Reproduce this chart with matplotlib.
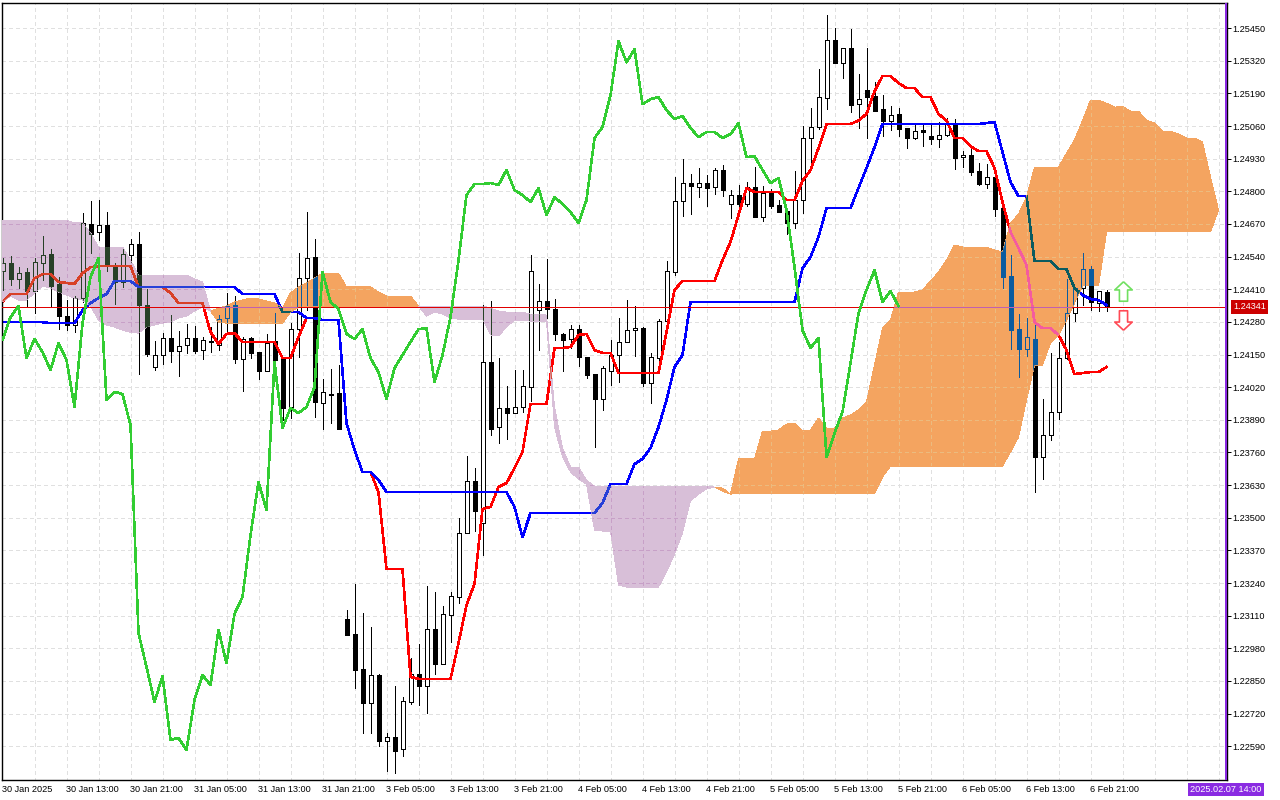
import numpy as np
import matplotlib
matplotlib.use('Agg')
import matplotlib.pyplot as plt
from matplotlib.colors import to_rgb, to_hex
from matplotlib.path import Path

plt.rcParams['font.family'] = ['Liberation Sans', 'DejaVu Sans']

# hourly candles
opens = [
    1.24482, 1.24514, 1.24451, 1.24478, 1.24403, 1.24514, 1.24550, 1.24431, 1.24303, 1.24267,
    1.24375, 1.24670, 1.24638, 1.24666, 1.24502, 1.24439, 1.24546, 1.24590, 1.24347, 1.24100,
    1.24148, 1.24216, 1.24164, 1.24188, 1.24216, 1.24168, 1.24204, 1.24188, 1.24295, 1.24347,
    1.24132, 1.24216, 1.24160, 1.24084, 1.24204, 1.24136, 1.23941, 1.24251, 1.24454, 1.24538,
    1.23957, 1.23993, 1.23997, 1.23097, 1.23037, 1.22898, 1.22762, 1.22874, 1.22611, 1.22627,
    1.22579, 1.22766, 1.22878, 1.22830, 1.23057, 1.22917, 1.23113, 1.23184, 1.23439, 1.23646,
    1.23479, 1.24120, 1.23861, 1.23937, 1.23917, 1.23941, 1.24020, 1.24327, 1.24363, 1.24331,
    1.24232, 1.24212, 1.24251, 1.24140, 1.24072, 1.23973, 1.24084, 1.24148, 1.24200, 1.24247,
    1.24255, 1.24036, 1.24136, 1.24283, 1.24478, 1.24761, 1.24833, 1.24817, 1.24833, 1.24817,
    1.24885, 1.24749, 1.24785, 1.24749, 1.24817, 1.24697, 1.24793, 1.24745, 1.24721, 1.24674,
    1.24765, 1.25012, 1.25056, 1.25171, 1.25402, 1.25311, 1.25370, 1.25147, 1.25203, 1.25179,
    1.25127, 1.25082, 1.25108, 1.25052, 1.25012, 1.25044, 1.25022, 1.25008, 1.25026, 1.25068,
    1.24936, 1.24944, 1.24881, 1.24829, 1.24857, 1.24733, 1.24462, 1.24251, 1.24172, 1.24212,
    1.23742, 1.23829, 1.23921, 1.24136, 1.24315, 1.24415, 1.24490, 1.24355, 1.24399,
]
highs = [
    1.24534, 1.24542, 1.24498, 1.24494, 1.24534, 1.24622, 1.24570, 1.24458, 1.24367, 1.24383,
    1.24713, 1.24761, 1.24765, 1.24717, 1.24514, 1.24570, 1.24610, 1.24638, 1.24411, 1.24204,
    1.24235, 1.24307, 1.24243, 1.24271, 1.24263, 1.24220, 1.24259, 1.24307, 1.24395, 1.24383,
    1.24220, 1.24220, 1.24160, 1.24232, 1.24315, 1.24136, 1.24275, 1.24554, 1.24717, 1.24610,
    1.24052, 1.24092, 1.24108, 1.23132, 1.23236, 1.23121, 1.23065, 1.22878, 1.22643, 1.22830,
    1.22786, 1.22941, 1.22997, 1.23228, 1.23204, 1.23148, 1.23204, 1.23499, 1.23746, 1.23698,
    1.24347, 1.24363, 1.24136, 1.24024, 1.24088, 1.24088, 1.24546, 1.24431, 1.24530, 1.24371,
    1.24235, 1.24267, 1.24267, 1.24140, 1.24072, 1.24104, 1.24208, 1.24295, 1.24367, 1.24343,
    1.24259, 1.24156, 1.24291, 1.24522, 1.24857, 1.24928, 1.24869, 1.24893, 1.24865, 1.24893,
    1.24904, 1.24805, 1.24825, 1.24837, 1.24896, 1.24821, 1.24809, 1.24765, 1.24721, 1.24881,
    1.25060, 1.25131, 1.25287, 1.25502, 1.25450, 1.25370, 1.25446, 1.25267, 1.25370, 1.25234,
    1.25183, 1.25139, 1.25131, 1.25052, 1.25064, 1.25064, 1.25064, 1.25076, 1.25092, 1.25088,
    1.24960, 1.24968, 1.24912, 1.24908, 1.24857, 1.24733, 1.24546, 1.24311, 1.24295, 1.24275,
    1.23973, 1.24156, 1.24200, 1.24451, 1.24419, 1.24554, 1.24502, 1.24403, 1.24407,
]
lows = [
    1.24407, 1.24427, 1.24415, 1.24339, 1.24315, 1.24447, 1.24339, 1.24251, 1.24247, 1.24239,
    1.24359, 1.24554, 1.24606, 1.24482, 1.24351, 1.24419, 1.24518, 1.24072, 1.24144, 1.24088,
    1.24112, 1.24120, 1.24064, 1.24156, 1.24156, 1.24132, 1.24160, 1.24168, 1.24239, 1.24116,
    1.24005, 1.24136, 1.24052, 1.24084, 1.24068, 1.23889, 1.23897, 1.24140, 1.24327, 1.23901,
    1.23853, 1.23877, 1.23853, 1.23033, 1.22822, 1.22643, 1.22643, 1.22591, 1.22491, 1.22483,
    1.22551, 1.22758, 1.22754, 1.22722, 1.22878, 1.22917, 1.23005, 1.23160, 1.23439, 1.23447,
    1.23351, 1.23829, 1.23797, 1.23813, 1.23917, 1.23921, 1.23965, 1.24168, 1.24295, 1.24208,
    1.24084, 1.24176, 1.24104, 1.24056, 1.23782, 1.23929, 1.24028, 1.24040, 1.24200, 1.24144,
    1.24024, 1.23957, 1.24124, 1.24283, 1.24466, 1.24701, 1.24709, 1.24777, 1.24741, 1.24789,
    1.24781, 1.24693, 1.24741, 1.24741, 1.24697, 1.24681, 1.24733, 1.24717, 1.24630, 1.24654,
    1.24713, 1.24912, 1.25048, 1.25127, 1.25311, 1.25251, 1.25116, 1.25052, 1.25012, 1.25119,
    1.25022, 1.25044, 1.25022, 1.24972, 1.25008, 1.24980, 1.24988, 1.24976, 1.25022, 1.24889,
    1.24896, 1.24865, 1.24825, 1.24813, 1.24701, 1.24415, 1.24172, 1.24060, 1.24144, 1.23602,
    1.23654, 1.23809, 1.23893, 1.24132, 1.24283, 1.24347, 1.24327, 1.24323, 1.24323,
]
closes = [
    1.24514, 1.24451, 1.24474, 1.24403, 1.24518, 1.24546, 1.24423, 1.24303, 1.24267, 1.24375,
    1.24674, 1.24630, 1.24666, 1.24502, 1.24439, 1.24550, 1.24590, 1.24347, 1.24152, 1.24148,
    1.24216, 1.24164, 1.24184, 1.24216, 1.24164, 1.24208, 1.24200, 1.24291, 1.24343, 1.24132,
    1.24212, 1.24156, 1.24084, 1.24196, 1.24128, 1.23937, 1.24251, 1.24454, 1.24534, 1.23961,
    1.24001, 1.23989, 1.23853, 1.23033, 1.22894, 1.22762, 1.22874, 1.22611, 1.22627, 1.22571,
    1.22770, 1.22878, 1.22830, 1.23057, 1.22917, 1.23117, 1.23188, 1.23439, 1.23646, 1.23527,
    1.24120, 1.23853, 1.23937, 1.23917, 1.23941, 1.24024, 1.24482, 1.24363, 1.24331, 1.24232,
    1.24208, 1.24251, 1.24140, 1.24068, 1.23973, 1.24096, 1.24148, 1.24200, 1.24247, 1.24255,
    1.24036, 1.24140, 1.24283, 1.24482, 1.24761, 1.24833, 1.24821, 1.24833, 1.24813, 1.24885,
    1.24805, 1.24785, 1.24749, 1.24817, 1.24697, 1.24793, 1.24741, 1.24717, 1.24674, 1.24765,
    1.25012, 1.25056, 1.25175, 1.25402, 1.25311, 1.25370, 1.25143, 1.25167, 1.25175, 1.25119,
    1.25082, 1.25104, 1.25048, 1.25012, 1.25040, 1.25036, 1.25008, 1.25026, 1.25068, 1.24932,
    1.24944, 1.24877, 1.24829, 1.24857, 1.24729, 1.24458, 1.24247, 1.24172, 1.24220, 1.23742,
    1.23829, 1.23921, 1.24136, 1.24315, 1.24415, 1.24490, 1.24359, 1.24403, 1.24341,
]

# ichimoku lines
tenkan = [
    1.24359, 1.24391, 1.24391, 1.24391, 1.24454, 1.24470, 1.24470, 1.24439, 1.24435, 1.24431,
    1.24474, 1.24498, 1.24502, 1.24502, 1.24502, 1.24502, 1.24502, 1.24419, 1.24419, 1.24419,
    1.24419, 1.24395, 1.24355, 1.24355, 1.24355, 1.24355, 1.24239, 1.24192, 1.24232, 1.24235,
    1.24200, 1.24200, 1.24200, 1.24200, 1.24200, 1.24136, 1.24136, 1.24220, 1.24295, 1.24295,
    1.24287, 1.24287, 1.24287, 1.23877, 1.23770, 1.23682, 1.23682, 1.23602, 1.23296, 1.23296,
    1.23296, 1.22866, 1.22858, 1.22858, 1.22858, 1.22858, 1.22858, 1.23001, 1.23152, 1.23236,
    1.23535, 1.23543, 1.23622, 1.23638, 1.23698, 1.23762, 1.23953, 1.23953, 1.23953, 1.24176,
    1.24176, 1.24180, 1.24228, 1.24232, 1.24168, 1.24156, 1.24156, 1.24076, 1.24076, 1.24076,
    1.24076, 1.24076, 1.24076, 1.24239, 1.24407, 1.24443, 1.24443, 1.24443, 1.24443, 1.24443,
    1.24526, 1.24598, 1.24705, 1.24813, 1.24797, 1.24797, 1.24797, 1.24797, 1.24765, 1.24765,
    1.24841, 1.24885, 1.24972, 1.25068, 1.25068, 1.25068, 1.25068, 1.25082, 1.25108, 1.25199,
    1.25259, 1.25259, 1.25231, 1.25211, 1.25211, 1.25175, 1.25175, 1.25108, 1.25082, 1.25012,
    1.25012, 1.24980, 1.24960, 1.24960, 1.24893, 1.24757, 1.24638, 1.24574, 1.24506, 1.24279,
    1.24255, 1.24255, 1.24228, 1.24168, 1.24072, 1.24076, 1.24080, 1.24080, 1.24100,
]
kijun = [
    1.24279, 1.24279, 1.24279, 1.24279, 1.24279, 1.24279, 1.24275, 1.24275, 1.24275, 1.24275,
    1.24327, 1.24355, 1.24375, 1.24391, 1.24443, 1.24443, 1.24443, 1.24419, 1.24419, 1.24419,
    1.24419, 1.24419, 1.24419, 1.24419, 1.24419, 1.24419, 1.24419, 1.24419, 1.24419, 1.24419,
    1.24391, 1.24391, 1.24391, 1.24391, 1.24391, 1.24319, 1.24319, 1.24319, 1.24295, 1.24295,
    1.24287, 1.24287, 1.24287, 1.23877, 1.23770, 1.23682, 1.23682, 1.23650, 1.23602, 1.23602,
    1.23602, 1.23602, 1.23602, 1.23602, 1.23602, 1.23602, 1.23602, 1.23602, 1.23602, 1.23602,
    1.23602, 1.23602, 1.23602, 1.23602, 1.23543, 1.23423, 1.23519, 1.23519, 1.23519, 1.23519,
    1.23519, 1.23519, 1.23519, 1.23519, 1.23519, 1.23559, 1.23634, 1.23634, 1.23634, 1.23714,
    1.23734, 1.23778, 1.23861, 1.23969, 1.24100, 1.24148, 1.24359, 1.24359, 1.24359, 1.24359,
    1.24359, 1.24359, 1.24359, 1.24359, 1.24359, 1.24359, 1.24359, 1.24359, 1.24359, 1.24359,
    1.24494, 1.24538, 1.24618, 1.24733, 1.24733, 1.24733, 1.24733, 1.24813, 1.24893, 1.24976,
    1.25068, 1.25068, 1.25068, 1.25068, 1.25068, 1.25068, 1.25068, 1.25068, 1.25068, 1.25068,
    1.25068, 1.25068, 1.25068, 1.25072, 1.25076, 1.24956, 1.24837, 1.24781, 1.24781, 1.24522,
    1.24522, 1.24522, 1.24490, 1.24490, 1.24415, 1.24387, 1.24371, 1.24367, 1.24347,
]
chikou = [
    1.24208, 1.24299, 1.24343, 1.24136, 1.24212, 1.24160, 1.24088, 1.24196, 1.24128, 1.23941,
    1.24275, 1.24458, 1.24534, 1.23969, 1.24001, 1.23993, 1.23869, 1.23041, 1.22906, 1.22766,
    1.22870, 1.22615, 1.22623, 1.22575, 1.22774, 1.22874, 1.22834, 1.23053, 1.22921, 1.23117,
    1.23184, 1.23431, 1.23642, 1.23531, 1.24120, 1.23857, 1.23937, 1.23917, 1.23941, 1.24020,
    1.24478, 1.24359, 1.24331, 1.24232, 1.24212, 1.24251, 1.24136, 1.24080, 1.23973, 1.24096,
    1.24148, 1.24200, 1.24251, 1.24255, 1.24040, 1.24148, 1.24299, 1.24526, 1.24785, 1.24829,
    1.24829, 1.24833, 1.24825, 1.24885, 1.24805, 1.24785, 1.24757, 1.24813, 1.24705, 1.24777,
    1.24749, 1.24717, 1.24674, 1.24765, 1.25012, 1.25056, 1.25183, 1.25398, 1.25314, 1.25366,
    1.25147, 1.25167, 1.25175, 1.25123, 1.25088, 1.25100, 1.25052, 1.25016, 1.25036, 1.25036,
    1.25012, 1.25028, 1.25071, 1.24936, 1.24940, 1.24885, 1.24833, 1.24853, 1.24725, 1.24498,
    1.24247, 1.24176, 1.24216, 1.23742, 1.23837, 1.23921, 1.24116, 1.24315, 1.24407, 1.24486,
    1.24359, 1.24403, 1.24343,
]

# cloud edges, they run 26 bars past the last candle
span_a = [
    1.24359, 1.24383, 1.24367, 1.24367, 1.24395, 1.24423, 1.24415, 1.24399, 1.24387, 1.24375,
    1.24367, 1.24343, 1.24287, 1.24267, 1.24259, 1.24247, 1.24239, 1.24235, 1.24259, 1.24267,
    1.24275, 1.24279, 1.24295, 1.24303, 1.24323, 1.24339, 1.24323,
    1.24335, 1.24343, 1.24359, 1.24367, 1.24375, 1.24371, 1.24363, 1.24355, 1.24335, 1.24395,
    1.24419, 1.24435, 1.24454, 1.24474, 1.24474, 1.24474, 1.24419, 1.24419, 1.24419, 1.24419,
    1.24399, 1.24383, 1.24383, 1.24383, 1.24383, 1.24343,
    1.24303, 1.24319, 1.24311, 1.24295, 1.24291, 1.24291, 1.24291, 1.24291, 1.24228, 1.24224,
    1.24259, 1.24287, 1.24287, 1.24283, 1.24283, 1.24283, 1.23861, 1.23742, 1.23682, 1.23654,
    1.23634, 1.23451, 1.23447, 1.23447, 1.23232, 1.23224, 1.23224, 1.23224, 1.23224, 1.23224,
    1.23284, 1.23355, 1.23439, 1.23567, 1.23594, 1.23614, 1.23622, 1.23618, 1.23594,
    1.23734, 1.23734, 1.23734, 1.23845, 1.23845, 1.23849, 1.23873, 1.23877, 1.23845, 1.23849,
    1.23897, 1.23857, 1.23857, 1.23897, 1.23909, 1.23929, 1.23961, 1.24108, 1.24255, 1.24287,
    1.24399, 1.24399, 1.24399, 1.24407, 1.24443, 1.24478, 1.24526, 1.24586, 1.24578, 1.24578,
    1.24578, 1.24578, 1.24566, 1.24558, 1.24674, 1.24709, 1.24777, 1.24896, 1.24896, 1.24896,
    1.24896, 1.24952, 1.25004, 1.25082, 1.25163, 1.25163, 1.25151, 1.25135, 1.25139, 1.25119,
    1.25119, 1.25082, 1.25072, 1.25040, 1.25040, 1.25028, 1.25012, 1.25012, 1.24996, 1.24857,
    1.24725,
]
span_b = (
    [1.24685] * 9 + [1.24674] * 2 + [1.24634] + [1.24578] * 4 + [1.24526] + [1.24466] * 7
    + [1.24451, 1.24439, 1.24323]
    + [1.24279] + [1.24275] * 8 + [1.24319, 1.24339] + [1.24343] * 14
    + [1.24343]
    + [1.24343] * 8 + [1.24335, 1.24323] + [1.24319] * 3 + [1.24311] * 2 + [1.24307, 1.23941, 1.23778]
    + [1.23702] * 2 + [1.23650] + [1.23626] * 15
    + [1.23622, 1.23606, 1.23594]
    + [1.23598] * 18 + [1.23662] + [1.23706] * 15
    + [1.23762, 1.23821, 1.23969, 1.24108, 1.24108, 1.24196, 1.24228, 1.24287, 1.24355]
    + [1.24423] * 3 + [1.24638] * 14 + [1.24725]
)

y_tick_prices = [1.25450, 1.25320, 1.25190, 1.25060, 1.24930, 1.24800, 1.24670, 1.24540,
                 1.24410, 1.24280, 1.24150, 1.24020, 1.23890, 1.23760, 1.23630, 1.23500,
                 1.23370, 1.23240, 1.23110, 1.22980, 1.22850, 1.22720, 1.22590]
x_tick_bars = [0, 8, 16, 24, 32, 40, 48, 56, 64, 72, 80, 88, 96, 104, 112, 120, 128, 136]
x_tick_labels = ['30 Jan 2025', '30 Jan 13:00', '30 Jan 21:00', '31 Jan 05:00', '31 Jan 13:00',
                 '31 Jan 21:00', '3 Feb 05:00', '3 Feb 13:00', '3 Feb 21:00', '4 Feb 05:00',
                 '4 Feb 13:00', '4 Feb 21:00', '5 Feb 05:00', '5 Feb 13:00', '5 Feb 21:00',
                 '6 Feb 05:00', '6 Feb 13:00', '6 Feb 21:00']
last_price = 1.24341
last_label = '1.24341'
marker_label = '2025.02.07 14:00'
marker_bar = 152.9
arrow_bar = 140
arrow_up_price = 1.24405
arrow_down_price = 1.24289

ORANGE = '#f4a460'
THISTLE = '#d8bfd8'
VIOLET = '#8a2be2'
PX = 0.72  # one pixel in points at dpi 100
LINE_W = 1.6 * PX

opens, highs, lows, closes = map(np.array, (opens, highs, lows, closes))
bars = np.arange(len(opens))
cloud_bars = np.arange(len(span_a))
span_a = np.array(span_a)
span_b = np.array(span_b)
grid_bars = np.arange(0, 153, 4)


def xor_color(fg, bg):
    # the platform draws the cloud with xor, so marks change colour inside it
    f = (np.array(to_rgb(fg)) * 255).round().astype(int)
    b = (np.array(to_rgb(bg)) * 255).round().astype(int)
    return to_hex((255 - (f ^ b)) / 255)


def draw_layer(ax, z, bg=None, clip=None):
    col = (lambda c: c) if bg is None else (lambda c: xor_color(c, bg))
    items = []
    dash = (0, (4, 4))
    items.append(ax.hlines(y_tick_prices, -0.0625, 153, colors=col('#e0e0e0'), linewidth=PX,
                           linestyles=[dash], antialiased=False, zorder=z))
    items.append(ax.vlines(grid_bars[1:], 1.2245, 1.2556, colors=col('#e0e0e0'), linewidth=PX,
                           linestyles=[dash], antialiased=False, zorder=z))
    items.append(ax.vlines(bars, lows, highs, colors=col('#000000'), linewidth=PX,
                           antialiased=False, zorder=z + 0.2))
    up = closes >= opens
    body_low = np.minimum(opens, closes)
    body_h = np.abs(closes - opens)
    fill = [bg if (bg is not None and u) else ('#ffffff' if u else col('#000000')) for u in up]
    boxes = ax.bar(bars, body_h, bottom=body_low, width=0.5, color=fill, edgecolor=col('#000000'),
                   linewidth=PX, antialiased=False, zorder=z + 0.3)
    items.extend(boxes.patches)
    items.extend(ax.plot(bars, tenkan, color=col('#ff0000'), lw=LINE_W, antialiased=False,
                         zorder=z + 0.4))
    items.extend(ax.plot(bars, kijun, color=col('#0000ff'), lw=LINE_W, antialiased=False,
                         zorder=z + 0.5))
    if clip is not None:
        for it in items:
            it.set_clip_path(clip, transform=ax.transData)


fig = plt.figure(figsize=(12.8, 8), dpi=100)
ax = fig.add_axes([2 / 1280, 1 - 779.5 / 800, 1225 / 1280, 777 / 800])
ax.set_xlim(-0.0625, 153.0625)
ax.set_ylim(1.224575, 1.25552)

draw_layer(ax, 1)

orange = ax.fill_between(cloud_bars, span_a, span_b, where=span_a >= span_b, facecolor=ORANGE,
                         edgecolor='none', antialiased=False, zorder=5)
purple = ax.fill_between(cloud_bars, span_a, span_b, where=span_a <= span_b, facecolor=THISTLE,
                         edgecolor='none', antialiased=False, zorder=5)
orange_clip = Path.make_compound_path(*orange.get_paths())

draw_layer(ax, 6, bg=ORANGE, clip=orange_clip)
draw_layer(ax, 7, bg=THISTLE, clip=Path.make_compound_path(*purple.get_paths()))

# current price line goes over the candles, orchid where it crosses the orange cloud
ax.plot([-0.0625, marker_bar], [last_price, last_price], color='#e00000', lw=PX, antialiased=False,
        zorder=8)
price_in_cloud = ax.plot([-0.0625, marker_bar], [last_price, last_price], color='#c060b0', lw=PX,
                         antialiased=False, zorder=8.1)[0]
price_in_cloud.set_clip_path(orange_clip, transform=ax.transData)

ax.plot(np.arange(len(chikou)), chikou, color='#32cd32', lw=LINE_W, antialiased=False, zorder=9)
ax.axvline(marker_bar, color=VIOLET, lw=3 * PX, antialiased=False, zorder=9)

# up and down arrows next to the last candle
up_arrow = Path([(0, 1), (.9, .16), (.42, .16), (.42, -1), (-.42, -1), (-.42, .16), (-.9, .16), (0, 1)])
down_arrow = Path([(0, -1), (.9, -.16), (.42, -.16), (.42, 1), (-.42, 1), (-.42, -.16), (-.9, -.16), (0, -1)])
ax.plot([arrow_bar], [arrow_up_price], marker=up_arrow, ms=14, mfc='white', mec='#70e060',
        mew=1.2, linestyle='none', zorder=9)
ax.plot([arrow_bar], [arrow_down_price], marker=down_arrow, ms=14, mfc='white', mec='#ff4a55',
        mew=1.2, linestyle='none', zorder=9)

ax.yaxis.tick_right()
ax.set_yticks(y_tick_prices)
ax.set_yticklabels(['%.5f' % p for p in y_tick_prices])
ax.set_xticks(x_tick_bars)
ax.set_xticklabels(x_tick_labels, ha='left')
ax.tick_params(axis='y', length=3.2, width=PX, labelsize=6.6, pad=1)
ax.tick_params(axis='x', length=0, labelsize=6.6, pad=4)
for s in ax.spines.values():
    s.set_linewidth(PX * 1.4)

ax.text(1 + 6 / 1225, last_price, last_label, transform=ax.get_yaxis_transform(), color='white',
        fontsize=6.6, va='center', ha='left', clip_on=False,
        bbox=dict(facecolor='#cc0000', edgecolor='none', pad=1.8))
fig.text(1190 / 1280, 1 - 789.5 / 800, marker_label, color='white', fontsize=6.6, va='center',
         ha='left', bbox=dict(facecolor=VIOLET, edgecolor='none', pad=1.8))

fig.savefig('out.png', dpi=100)
